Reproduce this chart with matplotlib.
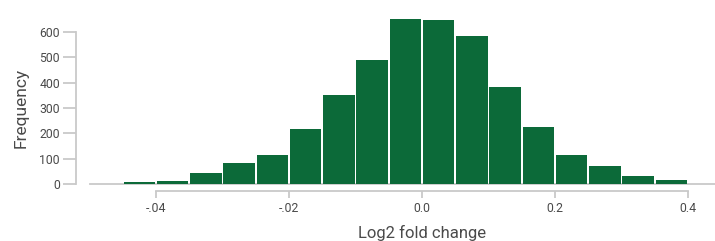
import matplotlib
matplotlib.use("Agg")
import matplotlib.pyplot as plt
import numpy as np

plt.rcParams['font.family'] = ['Roboto', 'DejaVu Sans']

# Data
bin_edges = [-0.45, -0.40, -0.35, -0.30, -0.25, -0.20, -0.15, -0.10, -0.05,
             0.00, 0.05, 0.10, 0.15, 0.20, 0.25, 0.30, 0.35, 0.40]
counts = [6, 11, 43, 83, 114, 217, 351, 489, 651, 647, 584, 383, 225, 114, 71, 32, 16]
xtick_pos = [-0.4, -0.2, 0.0, 0.2, 0.4]
xtick_labels = ['-.04', '-.02', '0.0', '0.2', '0.4']
ytick_pos = [0, 100, 200, 300, 400, 500, 600]

W, H = 715, 241
fig = plt.figure(figsize=(W / 100, H / 100), dpi=100)
left_px, right_px = 76, 715
base_px = 184
top_px = 184 - 700 * 152 / 600
ax = fig.add_axes([left_px / W, (H - base_px) / H, (right_px - left_px) / W, (base_px - top_px) / H])

green = '#0c6a39'
grey = '#c9c9c9'
txt = '#4a4a4a'

gap = 0.0028
widths = np.diff(bin_edges) - gap
ax.bar(np.array(bin_edges[:-1]) + gap / 2, counts, width=widths, align='edge',
       color=green, linewidth=0, zorder=2)

x0 = (left_px - 422) / 665
x1 = (right_px - 422) / 665
ax.set_xlim(x0, x1)
ax.set_ylim(0, 700)

# baseline
ax.plot([-0.499, x1], [0, 0], color=grey, lw=1.3, clip_on=False, zorder=1)

for s in ['top', 'right']:
    ax.spines[s].set_visible(False)
ax.spines['left'].set_color(grey)
ax.spines['left'].set_linewidth(1.3)
ax.spines['left'].set_bounds(0, 600)
ax.spines['bottom'].set_color(grey)
ax.spines['bottom'].set_linewidth(1.3)
ax.spines['bottom'].set_position(('outward', 5))
ax.spines['bottom'].set_bounds(-0.4, 0.4)

ax.set_xticks(xtick_pos)
ax.set_xticklabels(xtick_labels)
ax.set_yticks(ytick_pos)
ax.set_yticklabels([str(v) for v in ytick_pos])
ax.tick_params(axis='y', length=9.5, width=1.3, color=grey, labelcolor=txt, labelsize=8.8, pad=2)
ax.tick_params(axis='x', length=5, width=1.3, color=grey, labelcolor=txt, labelsize=8.8, pad=3)

ax.set_ylabel('Frequency', fontsize=12.5, color=txt)
ax.yaxis.set_label_coords(-(76 - 21) / (right_px - left_px), 0.5 * (184 - 32) / (base_px - top_px) + 0.0, transform=ax.transAxes)
ax.yaxis.label.set_va('center')
ax.set_xlabel('Log2 fold change', fontsize=12, color=txt)
ax.xaxis.set_label_coords((422 - left_px) / (right_px - left_px), -(233 - base_px) / (base_px - top_px), transform=ax.transAxes)
ax.xaxis.label.set_va('center')

fig.savefig('out.png', dpi=100)
